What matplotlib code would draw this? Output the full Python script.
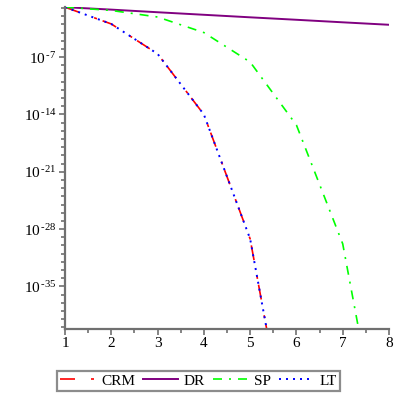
import numpy as np
import matplotlib
matplotlib.use("Agg")
import matplotlib.pyplot as plt
from matplotlib.ticker import FixedLocator, FuncFormatter, NullFormatter

plt.rcParams['font.family'] = ['Liberation Serif', 'DejaVu Serif']
plt.rcParams['mathtext.fontset'] = 'custom'
plt.rcParams['mathtext.rm'] = 'Liberation Serif'
plt.rcParams['mathtext.it'] = 'Liberation Serif'
plt.rcParams['lines.scale_dashes'] = False

# Data: log10 of the error values
n = [1, 2, 3, 4, 5, 6, 7, 8]
crm_log = [-0.9, -2.95, -6.6, -14.0, -29.2, -60.0, -121.0, -243.0]
lt_log = [-0.9, -2.95, -6.6, -14.0, -29.2, -60.0, -121.0, -243.0]
sp_log = [-0.9, -1.3, -2.1, -4.0, -7.6, -15.3, -29.8, -60.0]
dr_log = [-0.9, -1.2, -1.52, -1.83, -2.14, -2.44, -2.75, -3.05]

ytick_exp = [-7, -14, -21, -28, -35]

crm = 10.0 ** np.array(crm_log)
lt = 10.0 ** np.array(lt_log)
sp = 10.0 ** np.array(sp_log)
dr = 10.0 ** np.array(dr_log)

fig = plt.figure(figsize=(4, 4), dpi=100)
ax = fig.add_axes([0.1625, 0.1775, 0.81, 0.805])

px = 1 / 1.389
l_crm, = ax.semilogy(n, crm, color='#ff0000', lw=1.2, label='CRM',
                     dashes=(15 * px, 16 * px, 3 * px, 6 * px))
l_dr, = ax.semilogy(n, dr, color='#800080', lw=1.4, label='DR')
l_sp, = ax.semilogy(n, sp, color='#00ff00', lw=1.2, label='SP',
                    dashes=(9 * px, 7 * px, 2 * px, 7 * px))
l_lt, = ax.semilogy(n, lt, color='#0000ff', lw=1.4, label='LT',
                    dashes=(2 * px, 5 * px))

ax.set_xlim(1, 8)
ax.set_ylim(10 ** -40.2, 10 ** -0.88)

for s in ['top', 'right']:
    ax.spines[s].set_visible(False)
for s in ['left', 'bottom']:
    ax.spines[s].set_color('#707070')
    ax.spines[s].set_linewidth(1.6)

ax.xaxis.set_major_locator(FixedLocator(n))
ax.xaxis.set_minor_locator(FixedLocator(np.arange(1.5, 8, 1.0)))
ax.set_xticklabels([str(v) for v in n])

ax.yaxis.set_major_locator(FixedLocator([10.0 ** e for e in ytick_exp]))
ax.yaxis.set_minor_locator(FixedLocator([10.0 ** e for e in range(-40, 0)]))
ax.yaxis.set_major_formatter(FuncFormatter(
    lambda v, p: r'$10^{\,\text{-}%d}$' % abs(round(np.log10(v)))))
ax.yaxis.set_minor_formatter(NullFormatter())

ax.tick_params(axis='both', which='both', direction='out', color='#707070',
               width=1.2, labelsize=11, pad=2)
ax.tick_params(axis='both', which='major', length=4)
ax.tick_params(axis='both', which='minor', length=3)

leg = fig.legend(handles=[l_crm, l_dr, l_sp, l_lt], loc='center',
                 bbox_to_anchor=(0.496, 0.048), ncol=4, fontsize=11,
                 frameon=True, fancybox=False, handlelength=2.3,
                 handletextpad=0.4, columnspacing=0.5, borderpad=0.2,
                 borderaxespad=0)
leg.get_frame().set_edgecolor('#707070')
leg.get_frame().set_linewidth(1.6)

fig.savefig('out.png', dpi=100)
